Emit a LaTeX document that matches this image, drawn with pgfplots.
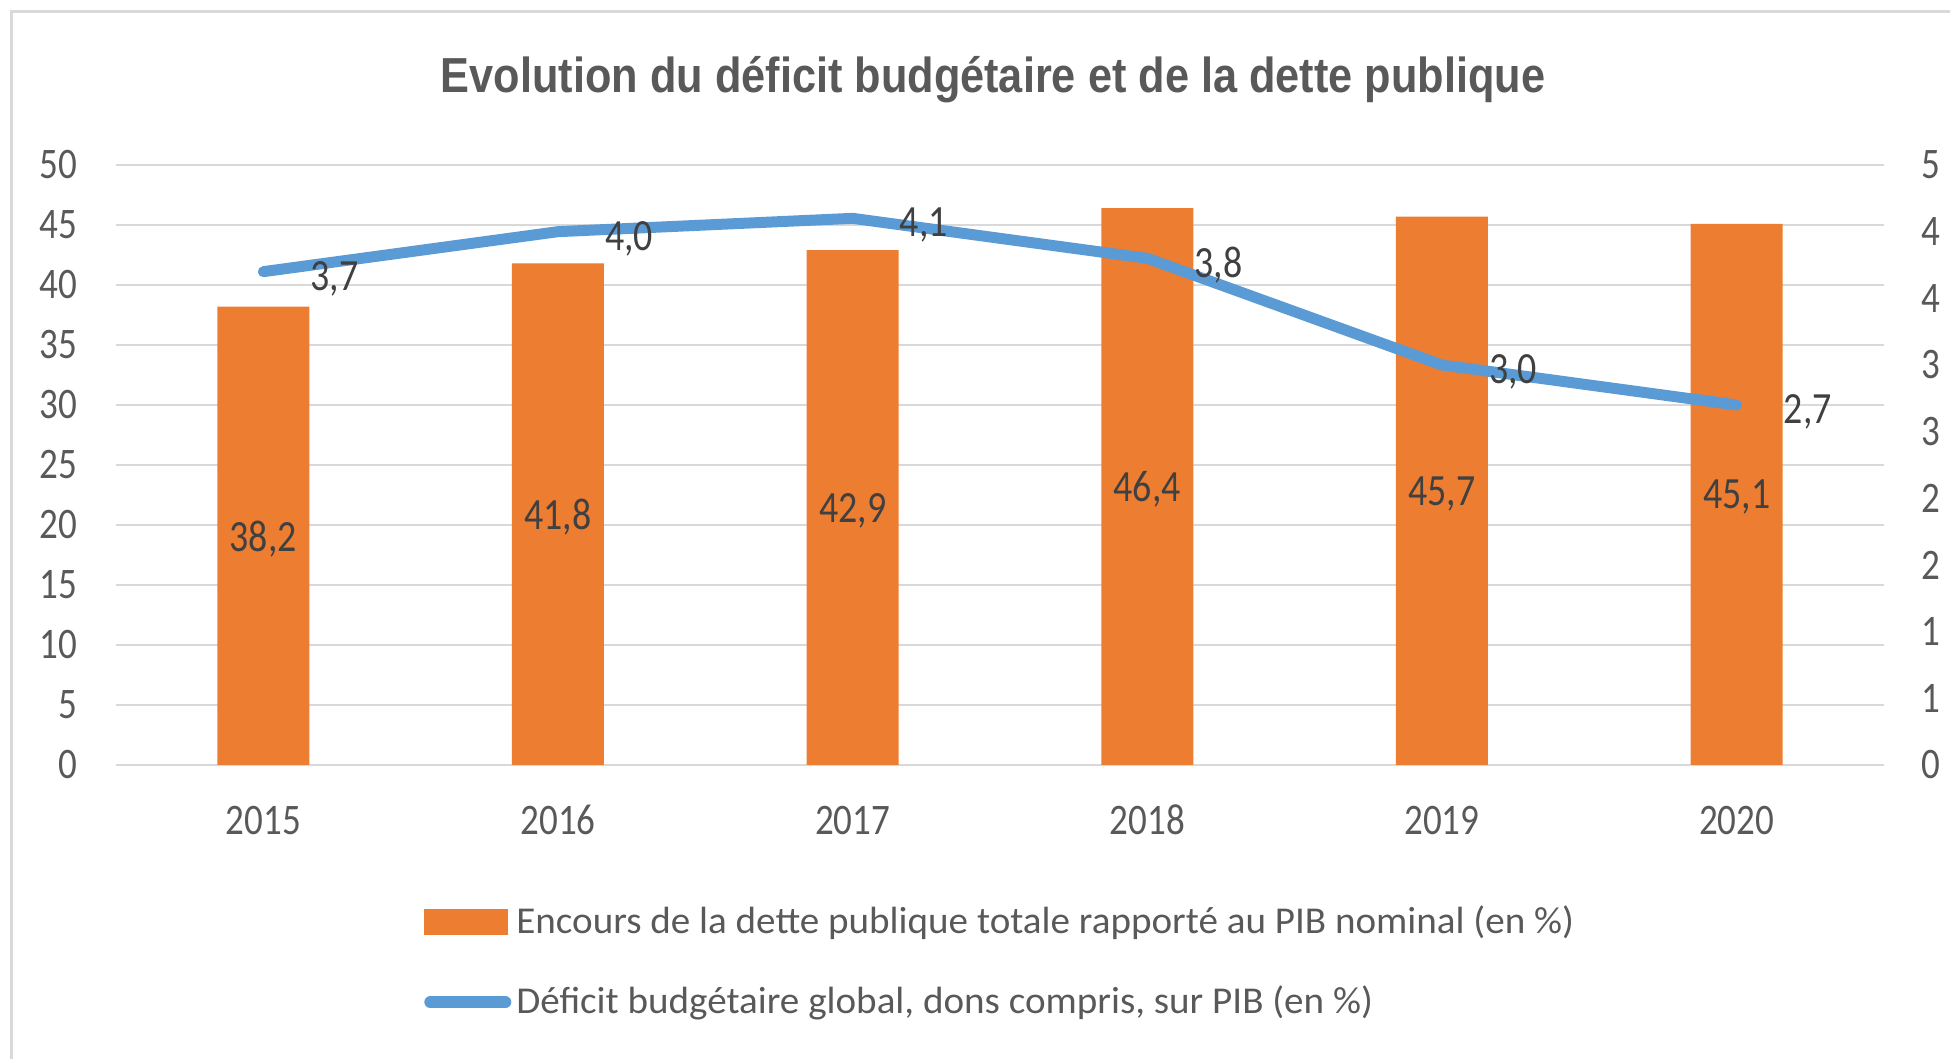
\documentclass[border=0pt]{standalone}
\usepackage{pgfplots}
\pgfplotsset{compat=1.18}
\usepackage{fontspec}
\setmainfont{Carlito}
\newfontfamily\tickfont{Carlito}[FakeStretch=0.85]
\newfontfamily\legfont{Carlito}[FakeStretch=1.03]
\newfontfamily\titlefont{Liberation Sans}[FakeStretch=0.88]
\pgfplotsset{/pgf/number format/assume math mode=true}
\definecolor{barorange}{HTML}{ED7D31}
\definecolor{lineblue}{HTML}{5B9BD5}
\definecolor{gridgray}{HTML}{D9D9D9}
\definecolor{txtgray}{HTML}{595959}
\definecolor{lblgray}{HTML}{404040}
\begin{document}
\begin{tikzpicture}[x=1cm,y=1cm]
\useasboundingbox (0,0) rectangle (19.5,10.59);
\draw[gridgray, line width=0.03cm] (0.12,0) -- (0.12,10.47) -- (19.5,10.47);
\node[font=\titlefont\fontsize{14}{16}\selectfont\bfseries, text=txtgray] at (9.93,9.79) {Evolution du déficit budgétaire et de la dette publique};
\begin{axis}[
  at={(1.16cm,2.94cm)}, anchor=south west, scale only axis,
  width=17.68cm, height=6cm,
  xmin=-0.5, xmax=5.5, ymin=0, ymax=50,
  xtick={0,1,2,3,4,5}, xticklabels={2015,2016,2017,2018,2019,2020},
  ytick={0,5,...,50},
  axis line style={draw=none},
  major tick length=0pt,
  ymajorgrids, grid style={gridgray, line width=0.027cm},
  ticklabel style={font=\tickfont\fontsize{12.4}{14}\selectfont, text=txtgray, inner sep=0pt},
  yticklabel style={anchor=east, xshift=-0.38cm},
  xticklabel style={anchor=base, yshift=-0.70cm},
  clip=false,
]
\addplot[ybar, bar width=0.92cm, bar shift=0pt, fill=barorange, draw=none]
  coordinates {(0,38.2) (1,41.8) (2,42.9) (3,46.4) (4,45.7) (5,45.1)};
\addplot[draw=none, mark=none, nodes near coords, point meta=explicit,
  nodes near coords style={anchor=center, yshift=-0.03cm, font=\tickfont\fontsize{12.7}{14}\selectfont, text=lblgray,
    /pgf/number format/.cd, fixed, fixed zerofill, precision=1, use comma, assume math mode=true}]
  coordinates {(0,19.1) [38.2] (1,20.9) [41.8] (2,21.45) [42.9] (3,23.2) [46.4] (4,22.85) [45.7] (5,22.55) [45.1]};
\end{axis}
\begin{axis}[
  at={(1.16cm,2.94cm)}, anchor=south west, scale only axis,
  width=17.68cm, height=6cm,
  xmin=-0.5, xmax=5.5, ymin=0, ymax=4.5,
  axis x line=none,
  axis y line*=right,
  axis line style={draw=none},
  major tick length=0pt,
  ytick={0,0.5,...,4.5},
  yticklabels={0,1,1,2,2,3,3,4,4,5},
  ticklabel style={font=\tickfont\fontsize{12.4}{14}\selectfont, text=txtgray, inner sep=0pt},
  yticklabel shift=0.37cm,
  clip=false,
  legend style={at={(0.1736,-0.225)}, anchor=north west, draw=none, fill=none,
    inner sep=0pt, row sep=0.37cm, font=\legfont\fontsize{10.8}{13}\selectfont, text=txtgray,
    nodes={inner sep=0.05cm}},
  legend cell align=left,
]
\addlegendimage{legend image code/.code={\fill[barorange] (0,-0.125cm) rectangle (0.83cm,0.125cm);}}
\addlegendentry{Encours de la dette publique totale rapporté au PIB nominal (en \%)}
\addplot[lineblue, line width=0.11cm, line cap=round, line join=round, mark=none,
  nodes near coords,
  nodes near coords style={anchor=west, xshift=0.3cm, yshift=-0.07cm, text=lblgray,
    font=\tickfont\fontsize{12.7}{14}\selectfont,
    /pgf/number format/.cd, fixed, fixed zerofill, precision=1, use comma, assume math mode=true},
  legend image code/.code={\draw[lineblue, line width=0.12cm, line cap=round] (0.06cm,0) -- (0.81cm,0);}]
  coordinates {(0,3.7) (1,4.0) (2,4.1) (3,3.8) (4,3.0) (5,2.7)};
\addlegendentry{Déficit budgétaire global, dons compris, sur PIB (en \%)}
\end{axis}
\end{tikzpicture}
\end{document}
